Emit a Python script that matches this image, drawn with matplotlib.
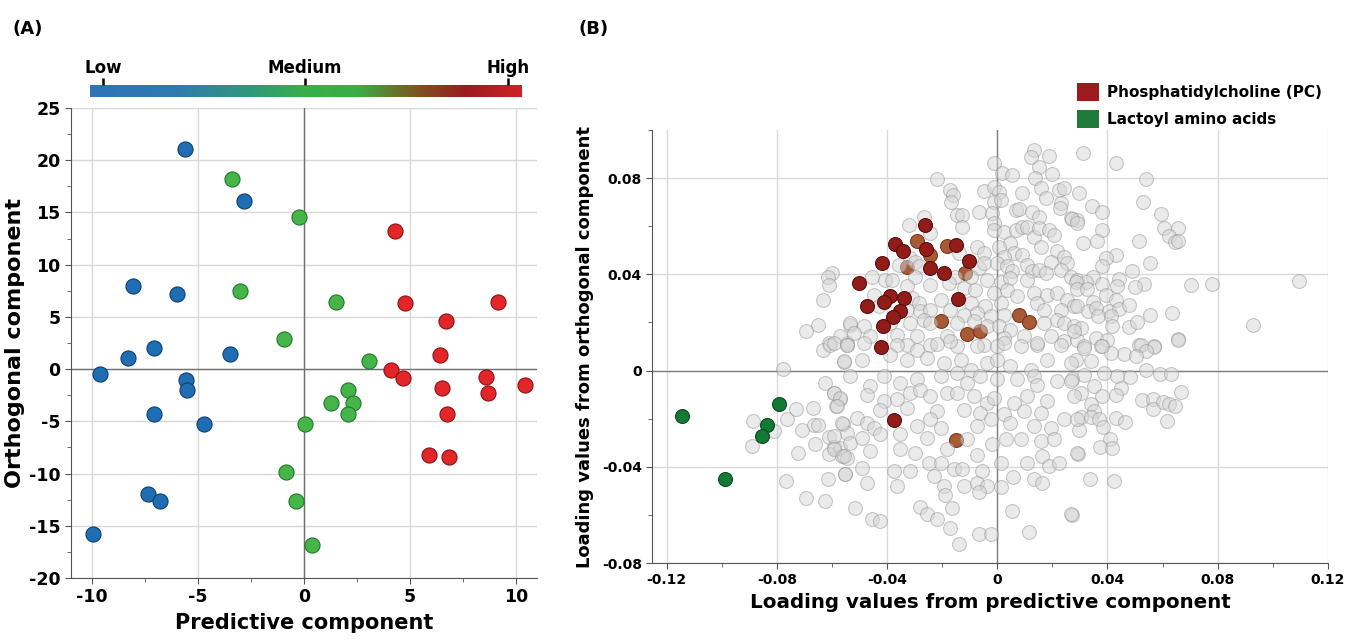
"""Score plot (A) and loading plot (B) of an OPLS-type model."""

import matplotlib.pyplot as plt
import numpy as np
from matplotlib.colors import LinearSegmentedColormap
from matplotlib.patches import Patch
from matplotlib.ticker import FuncFormatter, MultipleLocator

plt.rcParams["axes.unicode_minus"] = False

# ---------------- Panel A data: scores ----------------
low_x = [-5.6, -2.85, -8.05, -6.0, -3.5, -8.3, -7.1, -9.65, -5.55, -5.5,
         -7.1, -4.7, -7.35, -6.8, -9.95]
low_y = [21.1, 16.1, 8.0, 7.2, 1.4, 1.1, 2.0, -0.45, -1.0, -2.0,
         -4.3, -5.3, -12.0, -12.6, -15.8]

med_x = [-3.4, -0.22, -3.0, -0.93, 1.51, 3.05, 2.06, 1.27, 2.3, 2.06,
         0.03, -0.83, -0.39, 0.38]
med_y = [18.2, 14.6, 7.5, 2.85, 6.45, 0.8, -2.0, -3.25, -3.25, -4.3,
         -5.3, -9.9, -12.6, -16.8]

high_x = [4.28, 4.78, 9.18, 6.72, 6.4, 4.1, 4.67, 8.6, 10.43, 6.5,
          8.7, 6.77, 5.88, 6.86]
high_y = [13.2, 6.3, 6.45, 4.6, 1.37, -0.1, -0.83, -0.8, -1.57, -1.8,
          -2.3, -4.3, -8.2, -8.4]

level_labels = ["Low", "Medium", "High"]

# ---------------- Panel B data: loadings ----------------
pc_top = [(-0.0262, 0.0607), (-0.0372, 0.0525), (-0.0341, 0.0499), (-0.0258, 0.0506),
          (-0.0149, 0.0521), (-0.0420, 0.0449), (-0.0243, 0.0426), (-0.0192, 0.0405),
          (-0.0101, 0.0456), (-0.0501, 0.0365), (-0.0388, 0.0308), (-0.0337, 0.0301),
          (-0.0412, 0.0283), (-0.0474, 0.0267), (-0.0142, 0.0297), (-0.0353, 0.0249),
          (-0.0380, 0.0223), (-0.0416, 0.0187), (-0.0422, 0.0096), (-0.0376, -0.0206)]
pc_under = [(-0.0293, 0.0539), (-0.0243, 0.0481), (-0.0182, 0.0517), (-0.0326, 0.0430),
            (-0.0118, 0.0405), (-0.0206, 0.0207), (0.0079, 0.0232), (0.0117, 0.0203),
            (-0.0110, 0.0152), (-0.0062, 0.0165), (-0.0149, -0.0290)]
lactoyl = [(-0.1143, -0.0189), (-0.0794, -0.0138), (-0.0836, -0.0227),
           (-0.0855, -0.0274), (-0.0988, -0.0449)]

gray_pts = [
    # left side
    (-0.0600, 0.0405), (-0.0615, 0.0390), (-0.0610, 0.0357), (-0.0634, 0.0293),
    (-0.0650, 0.0188), (-0.0693, 0.0166), (-0.0610, 0.0115), (-0.0545, 0.0115),
    (-0.0534, 0.0190), (-0.0776, 0.0007), (-0.0633, 0.0087), (-0.0609, 0.0108),
    (-0.0558, 0.0034), (-0.0627, -0.0051), (-0.0594, -0.0093), (-0.0570, -0.0120),
    (-0.0585, -0.0148), (-0.0670, -0.0155), (-0.0731, -0.0159), (-0.0764, -0.0200),
    (-0.0885, -0.0210), (-0.0812, -0.0252), (-0.0709, -0.0245), (-0.0667, -0.0228),
    (-0.0652, -0.0228), (-0.0561, -0.0221), (-0.0545, -0.0258), (-0.0611, -0.0276),
    (-0.0661, -0.0307), (-0.0594, -0.0318), (-0.0570, -0.0320), (-0.0611, -0.0348),
    (-0.0564, -0.0355), (-0.0545, -0.0362), (-0.0889, -0.0314), (-0.0724, -0.0341),
    (-0.0615, -0.0449), (-0.0552, -0.0431), (-0.0767, -0.0457), (-0.0695, -0.0529),
    (-0.0624, -0.0543),
    # upper middle
    (0.0133, 0.0916), (0.0121, 0.0889), (0.0188, 0.0891), (-0.0012, 0.0861),
    (0.0018, 0.0822), (0.0055, 0.0813), (0.0151, 0.0845), (0.0200, 0.0817),
    (0.0136, 0.0799), (-0.0218, 0.0795), (-0.0170, 0.0750), (-0.0160, 0.0730),
    (-0.0167, 0.0702), (-0.0049, 0.0746), (-0.0012, 0.0764), (0.0006, 0.0743),
    (0.0091, 0.0739), (0.0160, 0.0757), (0.0224, 0.0750), (0.0242, 0.0757),
    (0.0176, 0.0716), (-0.0012, 0.0702), (0.0012, 0.0709), (0.0230, 0.0697),
    (0.0227, 0.0675), (-0.0067, 0.0661), (-0.0018, 0.0654), (0.0067, 0.0667),
    (0.0079, 0.0670), (-0.0145, 0.0647), (-0.0127, 0.0647), (0.0127, 0.0661),
    (0.0151, 0.0637), (0.0266, 0.0633), (0.0291, 0.0626), (-0.0321, 0.0605),
    (-0.0267, 0.0637), (-0.0127, 0.0598), (-0.0012, 0.0612), (-0.0012, 0.0585),
    (0.0024, 0.0578), (0.0067, 0.0585), (0.0091, 0.0598), (0.0109, 0.0598),
    (0.0133, 0.0557), (0.0151, 0.0592), (0.0188, 0.0585), (0.0206, 0.0564),
    (-0.0243, 0.0571), (0.0048, 0.0529), (0.0157, 0.0515), (-0.0073, 0.0515),
    (-0.0049, 0.0488), (0.0006, 0.0515), (0.0060, 0.0488), (0.0024, 0.0474),
    (0.0091, 0.0481), (0.0218, 0.0495), (0.0242, 0.0474), (0.0194, 0.0453),
    (0.0254, 0.0446), (-0.0140, 0.0488), (-0.0315, 0.0467), (-0.0297, 0.0453),
    (-0.0358, 0.0440), (-0.0285, 0.0433), (-0.0067, 0.0425), (-0.0049, 0.0446),
    (0.0000, 0.0446), (0.0036, 0.0433), (0.0055, 0.0412), (0.0109, 0.0440),
    (0.0127, 0.0412), (0.0151, 0.0419), (0.0176, 0.0405), (0.0230, 0.0419),
    (0.0266, 0.0391), (0.0291, 0.0377), (-0.0455, 0.0391), (-0.0406, 0.0377),
    (-0.0382, 0.0377), (-0.0297, 0.0391), (-0.0152, 0.0391), (-0.0097, 0.0391),
    (-0.0036, 0.0377), (0.0012, 0.0370), (0.0048, 0.0384), (0.0109, 0.0377),
    (-0.0327, 0.0350), (-0.0243, 0.0356), (-0.0176, 0.0363), (-0.0121, 0.0343),
    (-0.0079, 0.0336), (-0.0012, 0.0322), (0.0036, 0.0336), (0.0073, 0.0309),
    (0.0133, 0.0322), (0.0182, 0.0315), (0.0218, 0.0322), (0.0254, 0.0295),
    (-0.0449, 0.0315), (-0.0310, 0.0301), (-0.0285, 0.0281), (-0.0206, 0.0295),
    (-0.0097, 0.0281), (-0.0043, 0.0267), (0.0012, 0.0281), (0.0145, 0.0281),
    (0.0170, 0.0253), (0.0230, 0.0253), (0.0279, 0.0267), (-0.0430, 0.0267),
    (-0.0327, 0.0253), (-0.0279, 0.0246), (-0.0243, 0.0253), (-0.0170, 0.0253),
    (-0.0121, 0.0232), (-0.0073, 0.0239), (-0.0024, 0.0225), (0.0024, 0.0232),
    (-0.0533, 0.0198), (-0.0484, 0.0184), (-0.0388, 0.0198), (-0.0315, 0.0198),
    (-0.0267, 0.0212), (-0.0243, 0.0198), (-0.0145, 0.0198), (-0.0085, 0.0204),
    (-0.0036, 0.0184), (0.0006, 0.0184), (0.0048, 0.0170), (0.0170, 0.0198),
    (0.0218, 0.0212), (0.0242, 0.0198), (0.0279, 0.0184), (-0.0570, 0.0142),
    (-0.0521, 0.0156), (-0.0461, 0.0142), (-0.0364, 0.0149), (-0.0291, 0.0142),
    (-0.0182, 0.0142), (0.0024, 0.0135), (0.0097, 0.0142), (0.0194, 0.0142),
    (0.0242, 0.0121), (0.0291, 0.0128), (-0.0594, 0.0114), (-0.0545, 0.0108),
    (-0.0327, 0.0108), (-0.0243, 0.0108), (-0.0145, 0.0101), (-0.0049, 0.0108),
    (0.0000, 0.0101), (0.0145, 0.0108),
    # upper right
    (0.0313, 0.0905), (0.0430, 0.0861), (0.0540, 0.0795), (0.0297, 0.0737),
    (0.0528, 0.0701), (0.0345, 0.0684), (0.0379, 0.0661), (0.0273, 0.0629),
    (0.0288, 0.0615), (0.0594, 0.0651), (0.0604, 0.0592), (0.0655, 0.0592),
    (0.0624, 0.0560), (0.0645, 0.0536), (0.0655, 0.0540), (0.0379, 0.0585),
    (0.0361, 0.0540), (0.0313, 0.0529), (0.0513, 0.0538), (0.0430, 0.0481),
    (0.0394, 0.0467), (0.0382, 0.0436), (0.0555, 0.0449), (0.0488, 0.0415),
    (0.0442, 0.0380), (0.0436, 0.0352), (0.0348, 0.0391), (0.0321, 0.0367),
    (0.0285, 0.0370), (0.0379, 0.0360), (0.0531, 0.0360), (0.0500, 0.0347),
    (0.0705, 0.0356), (0.0779, 0.0360), (0.1097, 0.0374), (0.0291, 0.0339),
    (0.0327, 0.0339), (0.0394, 0.0315), (0.0430, 0.0295), (0.0349, 0.0284),
    (0.0291, 0.0267), (0.0331, 0.0246), (0.0357, 0.0260), (0.0406, 0.0246),
    (0.0442, 0.0257), (0.0479, 0.0274), (0.0364, 0.0228), (0.0412, 0.0225),
    (0.0555, 0.0232), (0.0634, 0.0239), (0.0418, 0.0184), (0.0479, 0.0181),
    (0.0509, 0.0200), (0.0303, 0.0177), (0.0279, 0.0163), (0.0927, 0.0191),
    (0.0655, 0.0133), (0.0357, 0.0135), (0.0400, 0.0128), (0.0515, 0.0108),
    (0.0569, 0.0101), (0.0315, 0.0104), (0.0376, 0.0104),
    # lower right
    (0.0655, 0.0126), (0.0570, 0.0098), (0.0521, 0.0108), (0.0539, 0.0080),
    (0.0460, 0.0070), (0.0503, 0.0059), (0.0412, 0.0073), (0.0382, 0.0101),
    (0.0315, 0.0094), (0.0339, 0.0039), (0.0285, 0.0046), (0.0539, 0.0004),
    (0.0592, -0.0015), (0.0630, -0.0015), (0.0482, -0.0026), (0.0436, -0.0024),
    (0.0388, -0.0010), (0.0315, -0.0017), (0.0273, -0.0037), (0.0351, -0.0065),
    (0.0448, -0.0072), (0.0430, -0.0100), (0.0382, -0.0107), (0.0303, -0.0092),
    (0.0667, -0.0088), (0.0527, -0.0123), (0.0567, -0.0120), (0.0600, -0.0129),
    (0.0564, -0.0159), (0.0624, -0.0141), (0.0645, -0.0148), (0.0339, -0.0141),
    (0.0351, -0.0169), (0.0303, -0.0192), (0.0342, -0.0192), (0.0370, -0.0203),
    (0.0430, -0.0199), (0.0463, -0.0214), (0.0616, -0.0210), (0.0384, -0.0235),
    (0.0297, -0.0249), (0.0409, -0.0286), (0.0373, -0.0316), (0.0418, -0.0322),
    (0.0293, -0.0345), (0.0337, -0.0452), (0.0422, -0.0461), (0.0273, -0.0600),
    # lower middle
    (-0.0545, 0.0108), (-0.0485, 0.0115), (-0.0364, 0.0108), (-0.0291, 0.0087),
    (-0.0218, 0.0112), (-0.0170, 0.0121), (-0.0073, 0.0101), (0.0024, 0.0115),
    (0.0085, 0.0101), (0.0145, 0.0115), (0.0230, 0.0108), (-0.0558, 0.0039),
    (-0.0491, 0.0046), (-0.0388, 0.0066), (-0.0327, 0.0046), (-0.0255, 0.0052),
    (-0.0194, 0.0032), (-0.0133, 0.0046), (-0.0097, 0.0004), (-0.0036, 0.0032),
    (0.0000, 0.0046), (0.0048, 0.0018), (0.0121, 0.0004), (0.0182, 0.0046),
    (0.0267, 0.0032), (-0.0533, -0.0024), (-0.0461, -0.0065), (-0.0412, -0.0024),
    (-0.0352, -0.0051), (-0.0291, -0.0037), (-0.0206, -0.0024), (-0.0145, -0.0010),
    (-0.0109, -0.0051), (-0.0061, -0.0024), (0.0000, -0.0037), (0.0073, -0.0037),
    (0.0133, -0.0024), (0.0145, -0.0058), (0.0218, -0.0044), (0.0267, -0.0044),
    (-0.0594, -0.0092), (-0.0570, -0.0113), (-0.0473, -0.0100), (-0.0412, -0.0127),
    (-0.0364, -0.0120), (-0.0315, -0.0092), (-0.0279, -0.0079), (-0.0243, -0.0107),
    (-0.0182, -0.0092), (-0.0145, -0.0092), (-0.0085, -0.0107), (-0.0036, -0.0134),
    (-0.0012, -0.0113), (0.0061, -0.0134), (0.0109, -0.0107), (0.0182, -0.0127),
    (0.0279, -0.0107), (-0.0582, -0.0148), (-0.0424, -0.0162), (-0.0327, -0.0155),
    (-0.0218, -0.0169), (-0.0121, -0.0162), (-0.0061, -0.0175), (-0.0024, -0.0203),
    (0.0024, -0.0182), (0.0097, -0.0169), (0.0158, -0.0175), (-0.0564, -0.0217),
    (-0.0509, -0.0196), (-0.0473, -0.0217), (-0.0449, -0.0238), (-0.0291, -0.0231),
    (-0.0243, -0.0203), (-0.0206, -0.0238), (-0.0073, -0.0231), (0.0048, -0.0217),
    (0.0133, -0.0231), (0.0194, -0.0238), (0.0242, -0.0203), (0.0291, -0.0203),
    (-0.0594, -0.0272), (-0.0533, -0.0300), (-0.0491, -0.0279), (-0.0424, -0.0265),
    (-0.0352, -0.0265), (-0.0255, -0.0279), (-0.0109, -0.0286), (-0.0018, -0.0307),
    (0.0030, -0.0286), (0.0085, -0.0286), (0.0158, -0.0293), (0.0206, -0.0286),
    (-0.0594, -0.0328), (-0.0558, -0.0355), (-0.0461, -0.0334), (-0.0352, -0.0328),
    (-0.0297, -0.0342), (-0.0182, -0.0328), (-0.0073, -0.0349), (0.0291, -0.0342),
    (-0.0491, -0.0403), (-0.0376, -0.0417), (-0.0315, -0.0417), (-0.0249, -0.0383),
    (-0.0206, -0.0383), (-0.0158, -0.0411), (-0.0127, -0.0411), (-0.0055, -0.0417),
    (0.0012, -0.0383), (0.0109, -0.0383), (0.0164, -0.0355), (0.0188, -0.0397),
    (0.0224, -0.0383), (-0.0552, -0.0431), (-0.0473, -0.0466), (-0.0364, -0.0480),
    (-0.0230, -0.0438), (-0.0194, -0.0480), (-0.0121, -0.0480), (-0.0073, -0.0466),
    (-0.0036, -0.0480), (0.0012, -0.0486), (0.0058, -0.0441), (0.0133, -0.0452),
    (0.0164, -0.0469), (-0.0188, -0.0518), (-0.0067, -0.0505), (-0.0515, -0.0573),
    (-0.0279, -0.0569), (-0.0255, -0.0597), (-0.0218, -0.0618), (-0.0164, -0.0573),
    (-0.0455, -0.0615), (-0.0427, -0.0625), (0.0055, -0.0583), (0.0267, -0.0597),
    (-0.0173, -0.0654), (-0.0065, -0.0680), (-0.0024, -0.0680), (0.0115, -0.0673),
    (-0.0140, -0.0721),
]

# colours
low_col, low_edge = "#1f6db3", "#0f3f70"
med_col, med_edge = "#46b549", "#1f7a2a"
high_col, high_edge = "#e2262a", "#8a1212"
pc_col, pc_edge = "#921c1a", "#5a0d0b"
pc_under_col, pc_under_edge = "#a85a35", "#7a3a20"
lac_col, lac_edge = "#137a36", "#0b4a20"

bold = {"fontweight": "bold"}

fig = plt.figure(figsize=(13.49, 6.43), dpi=100)

# ======================= Panel A =======================
axA = fig.add_axes([0.0526, 0.1011, 0.3455, 0.731])
for xs, ys, c, ec in [(low_x, low_y, low_col, low_edge),
                      (med_x, med_y, med_col, med_edge),
                      (high_x, high_y, high_col, high_edge)]:
    axA.scatter(xs, ys, s=118, c=c, edgecolors=ec, linewidths=0.8, zorder=3)

axA.set_xlim(-11, 11)
axA.set_ylim(-20, 25)
axA.xaxis.set_major_locator(MultipleLocator(5))
axA.xaxis.set_minor_locator(MultipleLocator(2.5))
axA.yaxis.set_major_locator(MultipleLocator(5))
axA.yaxis.set_minor_locator(MultipleLocator(2.5))
axA.grid(True, which="major", color="#d9d9d9", linewidth=1.0, zorder=0)
axA.axhline(0, color="#707070", linewidth=1.0, zorder=1)
axA.axvline(0, color="#707070", linewidth=1.0, zorder=1)
axA.set_axisbelow(True)
for side in ["top", "right"]:
    axA.spines[side].set_visible(False)
for side in ["left", "bottom"]:
    axA.spines[side].set_color("#555555")
axA.tick_params(which="both", colors="#555555", labelcolor="black", labelsize=12.5)
axA.tick_params(which="major", length=4)
axA.tick_params(which="minor", length=3)
for lab in axA.get_xticklabels() + axA.get_yticklabels():
    lab.set_fontweight("bold")
axA.set_xlabel("Predictive component", fontsize=15, labelpad=5, **bold)
axA.set_ylabel("Orthogonal component", fontsize=16, **bold)
axA.yaxis.set_label_coords(-0.098, 0.5)
fig.text(0.009, 0.955, "(A)", fontsize=13, va="center", **bold)

# colour bar above panel A
cmap = LinearSegmentedColormap.from_list(
    "lvl",
    [(0.0, "#2e74b7"), (0.2, "#2f7bb0"), (0.38, "#2f9a78"), (0.5, "#37b04a"),
     (0.62, "#3aae46"), (0.75, "#7a5a22"), (0.87, "#9a1c1f"), (1.0, "#cf2128")],
)
cax = fig.add_axes([0.0667, 0.849, 0.320, 0.0187])
cax.imshow(np.linspace(0, 1, 256)[None, :], aspect="auto", cmap=cmap,
           extent=[0, 1, 0, 1])
cax.set_yticks([])
cax.xaxis.tick_top()
cax.set_xticks([0.03, 0.498, 0.968])
cax.set_xticklabels(level_labels, fontsize=12, fontweight="bold")
cax.tick_params(axis="x", length=5, width=1.8, pad=1)
for sp in cax.spines.values():
    sp.set_visible(False)

# ======================= Panel B =======================
axB = fig.add_axes([0.4836, 0.1244, 0.5007, 0.6734])
gx, gy = np.array(gray_pts).T
pux, puy = np.array(pc_under).T
ptx, pty = np.array(pc_top).T
lx, ly = np.array(lactoyl).T

axB.scatter(pux, puy, s=100, c=pc_under_col, edgecolors=pc_under_edge,
            linewidths=0.8, zorder=2)
axB.scatter(gx, gy, s=100, facecolors=(0.84, 0.84, 0.84, 0.5),
            edgecolors=(0.55, 0.55, 0.55, 0.45), linewidths=0.8, zorder=3)
axB.scatter(ptx, pty, s=100, c=pc_col, edgecolors=pc_edge, linewidths=0.8, zorder=4)
axB.scatter(lx, ly, s=100, c=lac_col, edgecolors=lac_edge, linewidths=0.8, zorder=4)

axB.set_xlim(-0.1252, 0.12)
axB.set_ylim(-0.08, 0.1)
axB.xaxis.set_major_locator(MultipleLocator(0.04))
axB.xaxis.set_minor_locator(MultipleLocator(0.02))
axB.yaxis.set_major_locator(MultipleLocator(0.04))
axB.yaxis.set_minor_locator(MultipleLocator(0.02))
fmt = FuncFormatter(lambda v, _: "0" if abs(v) < 1e-9 else f"{v:.2f}")
axB.xaxis.set_major_formatter(fmt)
axB.yaxis.set_major_formatter(fmt)
axB.grid(True, which="major", color="#d9d9d9", linewidth=1.0, zorder=0)
axB.axhline(0, color="#808080", linewidth=1.0, zorder=1)
axB.axvline(0, color="#808080", linewidth=1.0, zorder=1)
axB.set_axisbelow(True)
for side in ["top", "right"]:
    axB.spines[side].set_visible(False)
for side in ["left", "bottom"]:
    axB.spines[side].set_color("#555555")
axB.tick_params(which="both", colors="#555555", labelcolor="black", labelsize=10)
axB.tick_params(which="major", length=4)
axB.tick_params(which="minor", length=3)
for lab in axB.get_xticklabels() + axB.get_yticklabels():
    lab.set_fontweight("bold")
axB.set_xlabel("Loading values from predictive component", fontsize=14.3,
               labelpad=4, **bold)
axB.set_ylabel("Loading values from orthogonal component", fontsize=13,
               labelpad=6, **bold)
fig.text(0.429, 0.955, "(B)", fontsize=13, va="center", **bold)

handles = [Patch(facecolor="#9b1b1e", edgecolor="none", label="Phosphatidylcholine (PC)"),
           Patch(facecolor="#1e7b3c", edgecolor="none", label="Lactoyl amino acids")]
fig.legend(handles=handles, loc="upper left", bbox_to_anchor=(0.788, 0.893),
           frameon=False, handlelength=1.45, handleheight=1.45, handletextpad=0.55,
           labelspacing=0.6, prop={"weight": "bold", "size": 11})

fig.savefig("out.png", dpi=100)
